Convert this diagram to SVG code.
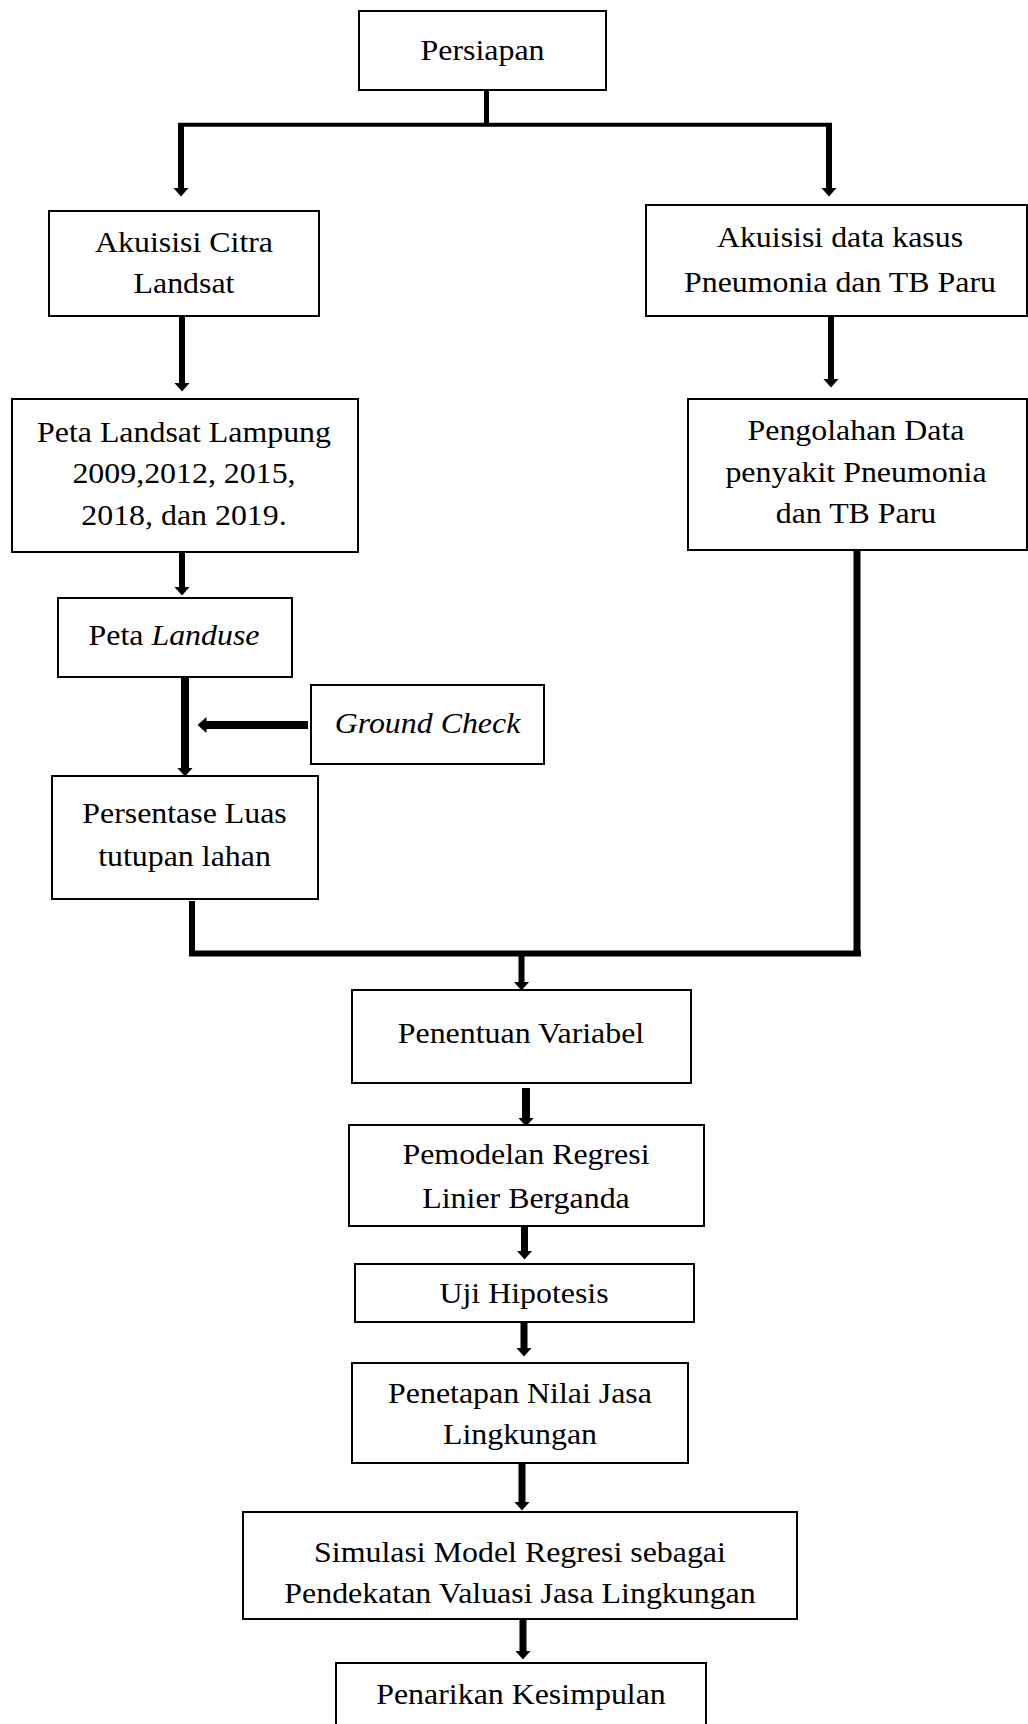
<svg xmlns="http://www.w3.org/2000/svg" width="1028" height="1724" viewBox="0 0 1028 1724">
<style>
.box{fill:#fff;stroke:#000;stroke-width:2}
.t{font-family:"Liberation Serif","Times New Roman",serif;font-size:29px;fill:#000;text-anchor:middle}
.i{font-style:italic}
.c{fill:none;stroke:#000;stroke-linecap:butt}
</style>
<defs>
<marker id="ah" viewBox="0 0 9 16" markerUnits="userSpaceOnUse" markerWidth="9" markerHeight="16" refX="0.5" refY="8" orient="auto">
<path d="M0,0 L9,8 L0,16 Z" fill="#000"/>
</marker>
</defs>
<rect width="1028" height="1724" fill="#fff"/>
<g id="connectors">
<line class="c" x1="486.5" y1="90" x2="486.5" y2="125" stroke-width="5"/>
<line class="c" x1="178" y1="124.7" x2="832" y2="124.7" stroke-width="4"/>
<line class="c" x1="181" y1="123" x2="181" y2="188" stroke-width="6" marker-end="url(#ah)"/>
<line class="c" x1="829" y1="123" x2="829" y2="188" stroke-width="6" marker-end="url(#ah)"/>
<line class="c" x1="182" y1="317" x2="182" y2="383" stroke-width="6" marker-end="url(#ah)"/>
<line class="c" x1="831" y1="317" x2="831" y2="379" stroke-width="6" marker-end="url(#ah)"/>
<line class="c" x1="182" y1="553" x2="182" y2="587" stroke-width="6" marker-end="url(#ah)"/>
<line class="c" x1="185" y1="678" x2="185" y2="768" stroke-width="8" marker-end="url(#ah)"/>
<line class="c" x1="308" y1="725" x2="206" y2="725" stroke-width="8" marker-end="url(#ah)"/>
<line class="c" x1="192" y1="901" x2="192" y2="956" stroke-width="6"/>
<line class="c" x1="189" y1="953.5" x2="861" y2="953.5" stroke-width="6"/>
<line class="c" x1="857" y1="551" x2="857" y2="956" stroke-width="7"/>
<line class="c" x1="521.5" y1="953" x2="521.5" y2="982" stroke-width="6" marker-end="url(#ah)"/>
<line class="c" x1="526" y1="1088" x2="526" y2="1118" stroke-width="8" marker-end="url(#ah)"/>
<line class="c" x1="524.5" y1="1227" x2="524.5" y2="1251" stroke-width="7" marker-end="url(#ah)"/>
<line class="c" x1="524" y1="1323" x2="524" y2="1348" stroke-width="7" marker-end="url(#ah)"/>
<line class="c" x1="522" y1="1464" x2="522" y2="1502" stroke-width="7" marker-end="url(#ah)"/>
<line class="c" x1="523" y1="1620" x2="523" y2="1651" stroke-width="7" marker-end="url(#ah)"/>
</g>
<g id="persiapan">
<rect class="box" x="359" y="11" width="247" height="79"/>
<text class="t" transform="matrix(1.1 0 0 1 482.5 59.5)">Persiapan</text>
</g>
<g id="akuisisi-citra">
<rect class="box" x="49" y="211" width="270" height="105"/>
<text class="t" transform="matrix(1.1 0 0 1 184 252)">Akuisisi Citra</text>
<text class="t" transform="matrix(1.1 0 0 1 184 293)">Landsat</text>
</g>
<g id="akuisisi-data">
<rect class="box" x="646" y="205" width="381" height="111"/>
<text class="t" transform="matrix(1.1 0 0 1 840 247)">Akuisisi data kasus</text>
<text class="t" transform="matrix(1.1 0 0 1 840 292)">Pneumonia dan TB Paru</text>
</g>
<g id="peta-landsat">
<rect class="box" x="12" y="399" width="346" height="153"/>
<text class="t" transform="matrix(1.1 0 0 1 184 442)">Peta Landsat Lampung</text>
<text class="t" transform="matrix(1.1 0 0 1 184 483)">2009,2012, 2015,</text>
<text class="t" transform="matrix(1.1 0 0 1 184 525)">2018, dan 2019.</text>
</g>
<g id="pengolahan-data">
<rect class="box" x="688" y="399" width="339" height="151"/>
<text class="t" transform="matrix(1.1 0 0 1 856 440)">Pengolahan Data</text>
<text class="t" transform="matrix(1.1 0 0 1 856 482)">penyakit Pneumonia</text>
<text class="t" transform="matrix(1.1 0 0 1 856 523)">dan TB Paru</text>
</g>
<g id="peta-landuse">
<rect class="box" x="58" y="598" width="234" height="79"/>
<text class="t" transform="matrix(1.1 0 0 1 174 645)">Peta <tspan class="i">Landuse</tspan></text>
</g>
<g id="ground-check">
<rect class="box" x="311" y="685" width="233" height="79"/>
<text class="t i" transform="matrix(1.1 0 0 1 427.5 733)">Ground Check</text>
</g>
<g id="persentase">
<rect class="box" x="52" y="776" width="266" height="123"/>
<text class="t" transform="matrix(1.1 0 0 1 184.5 823)">Persentase Luas</text>
<text class="t" transform="matrix(1.1 0 0 1 184.5 866)">tutupan lahan</text>
</g>
<g id="penentuan-variabel">
<rect class="box" x="352" y="990" width="339" height="93"/>
<text class="t" transform="matrix(1.1 0 0 1 521 1043)">Penentuan Variabel</text>
</g>
<g id="pemodelan">
<rect class="box" x="349" y="1125" width="355" height="101"/>
<text class="t" transform="matrix(1.1 0 0 1 526 1164)">Pemodelan Regresi</text>
<text class="t" transform="matrix(1.1 0 0 1 526 1208)">Linier Berganda</text>
</g>
<g id="uji-hipotesis">
<rect class="box" x="355" y="1264" width="339" height="58"/>
<text class="t" transform="matrix(1.1 0 0 1 524 1303)">Uji Hipotesis</text>
</g>
<g id="penetapan">
<rect class="box" x="352" y="1363" width="336" height="100"/>
<text class="t" transform="matrix(1.1 0 0 1 520 1403)">Penetapan Nilai Jasa</text>
<text class="t" transform="matrix(1.1 0 0 1 520 1444)">Lingkungan</text>
</g>
<g id="simulasi">
<rect class="box" x="243" y="1512" width="554" height="107"/>
<text class="t" transform="matrix(1.1 0 0 1 520 1562)">Simulasi Model Regresi sebagai</text>
<text class="t" transform="matrix(1.1 0 0 1 520 1603)">Pendekatan Valuasi Jasa Lingkungan</text>
</g>
<g id="penarikan">
<rect class="box" x="336" y="1663" width="370" height="90"/>
<text class="t" transform="matrix(1.1 0 0 1 521 1704)">Penarikan Kesimpulan</text>
</g>
</svg>
